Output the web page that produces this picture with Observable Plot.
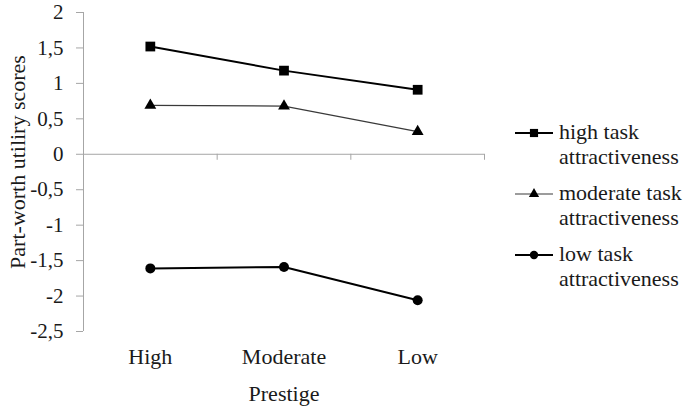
<!DOCTYPE html>
<html><head><meta charset="utf-8">
<script src="https://cdn.jsdelivr.net/npm/d3@7"></script>
<script src="https://cdn.jsdelivr.net/npm/@observablehq/plot@0.6"></script>
<style>
body{margin:0;background:#fff;}
#chart{position:relative;width:685px;height:409px;}
#legend{position:absolute;left:0;top:0;pointer-events:none;}
#chart svg text{font-family:"Liberation Serif", "Times New Roman", Times, serif;}
</style></head><body><div id="chart"></div>
<script>
const categories = ["High", "Moderate", "Low"];
const highTask = [1.52, 1.18, 0.91];
const moderateTask = [0.69, 0.68, 0.32];
const lowTask = [-1.61, -1.59, -2.06];
const seriesNames = ["high task attractiveness", "moderate task attractiveness", "low task attractiveness"];
const legendLines = [["high task", "attractiveness"], ["moderate task", "attractiveness"], ["low task", "attractiveness"]];
const yTicks = [2, 1.5, 1, 0.5, 0, -0.5, -1, -1.5, -2, -2.5];
const xLabel = "Prestige";
const yLabel = "Part-worth utiliry scores";

const font = '"Liberation Serif", "Times New Roman", Times, serif';
const fs = 22;
const textColor = "#1a1a1a";
const axisColor = "#a6a6a6";

const seriesValues = [highTask, moderateTask, lowTask];
const symbols = ["square", "triangle", "circle"];
const radii = [5.5, 4.4, 5];
const legendRadii = [4.6, 3.8, 4.2];
const widths = [2, 1.2, 2];
const colors = ["#000000", "#3a3a3a", "#000000"];

const rows = seriesNames.map((name, s) =>
  categories.map((c, i) => ({series: name, cat: c, pos: i + 0.5, value: seriesValues[s][i]}))
);

const seriesMarks = rows.flatMap((data, s) => [
  Plot.line(data, {x: "pos", y: "value", stroke: colors[s], strokeWidth: widths[s]}),
  Plot.dot(data, {x: "pos", y: "value", symbol: symbols[s], r: radii[s], fill: "#000", stroke: "none"})
]);

const plot = Plot.plot({
  width: 685, height: 409,
  marginLeft: 83, marginRight: 201, marginTop: 12, marginBottom: 78,
  style: {fontFamily: font, color: textColor, background: "#fff"},
  x: {type: "linear", domain: [0, categories.length]},
  y: {domain: [d3.min(yTicks), d3.max(yTicks)]},
  marks: [
    Plot.ruleY([0], {x1: 0, x2: categories.length, stroke: axisColor}),
    Plot.ruleX(d3.range(1, categories.length + 1), {y1: 0, y2: 0, insetBottom: -6, stroke: axisColor}),
    Plot.ruleX([0], {y1: d3.min(yTicks), y2: d3.max(yTicks), stroke: axisColor}),
    Plot.axisY({ticks: yTicks, tickFormat: d => String(d).replace(".", ","), tickSize: 7, tickPadding: 13,
      stroke: axisColor, fill: textColor, fontSize: 21, label: null}),
    Plot.axisX({ticks: categories.map((c, i) => i + 0.5), tickFormat: d => categories[Math.floor(d)],
      tickSize: 0, tickPadding: 17, fontSize: fs, fill: textColor, label: null}),
    ...seriesMarks,
    Plot.text([xLabel], {text: d => d, frameAnchor: "bottom", lineAnchor: "top", dy: 54, fontSize: fs, fill: textColor}),
    Plot.text([yLabel], {text: d => d, frameAnchor: "left", rotate: -90, dx: -66, dy: -10, fontSize: fs,
      textAnchor: "middle", lineAnchor: "middle", fill: textColor})
  ]
});
document.getElementById("chart").appendChild(plot);

// Legend
const legend = d3.select("#chart").append("svg").attr("id", "legend")
  .attr("width", 685).attr("height", 409);
const items = legend.selectAll("g").data(seriesNames).join("g")
  .attr("transform", (d, i) => `translate(515,${133 + i * 61})`);
items.append("line").attr("x1", 0).attr("x2", 38).attr("y1", 0).attr("y2", 0)
  .attr("stroke", (d, i) => colors[i]).attr("stroke-width", (d, i) => widths[i]);
const symMap = {square: d3.symbolSquare, triangle: d3.symbolTriangle, circle: d3.symbolCircle};
items.append("path").attr("transform", "translate(19,0)")
  .attr("d", (d, i) => d3.symbol(symMap[symbols[i]], Math.PI * legendRadii[i] ** 2)())
  .attr("fill", "#000");
items.each(function(d, i) {
  const t = d3.select(this).append("text").attr("x", 44).attr("y", 6)
    .attr("font-size", fs).attr("fill", textColor);
  legendLines[i].forEach((ln, k) => t.append("tspan").attr("x", 44).attr("dy", k === 0 ? 0 : 24.5).text(ln));
});
</script>
</body></html>
